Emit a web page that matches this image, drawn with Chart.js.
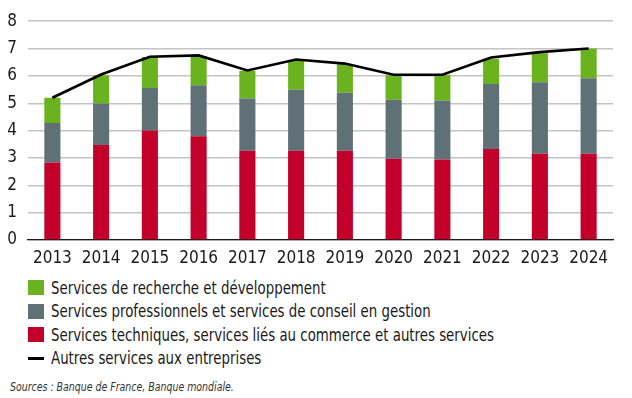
<!DOCTYPE html>
<html>
<head>
<meta charset="utf-8">
<script src="https://cdn.jsdelivr.net/npm/chart.js@4"></script>
<style>
  body { margin: 0; background: #fff; }
  #wrap { position: relative; width: 632px; height: 398px; font-family: "Liberation Sans Narrow", "DejaVu Sans Condensed", sans-serif; color: #1a1a1a; }
  #box { position: absolute; left: 0; top: 0; width: 632px; height: 272px; }
  #legend { position: absolute; left: 28px; top: 276px; }
  .row { display: flex; align-items: center; height: 23.5px; font-size: 17px; white-space: nowrap; }
  .row span.t { display: inline-block; transform: scaleX(0.873); transform-origin: left center; }
  .sw { width: 16px; height: 15px; margin-right: 7px; }
  .ln { width: 16px; height: 3px; margin-right: 7px; background: #000; }
  #src { position: absolute; left: 10px; top: 380px; font-size: 11.5px; font-style: italic; color: #333; white-space: nowrap; transform: scaleX(0.91); transform-origin: left center; }
</style>
</head>
<body>
<div id="wrap">
  <div id="box"><canvas id="myChart"></canvas></div>
  <div id="legend"></div>
  <div id="src">Sources : Banque de France, Banque mondiale.</div>
</div>
<script>
const years = ["2013", "2014", "2015", "2016", "2017", "2018", "2019", "2020", "2021", "2022", "2023", "2024"];
const techniques = [2.83, 3.47, 4.0, 3.79, 3.26, 3.26, 3.26, 2.97, 2.94, 3.33, 3.15, 3.15];
const professionnels = [1.45, 1.52, 1.56, 1.87, 1.91, 2.23, 2.12, 2.16, 2.16, 2.37, 2.62, 2.76];
const recherche = [0.92, 1.03, 1.13, 1.07, 1.02, 1.06, 1.05, 0.89, 0.94, 0.93, 1.06, 1.09];
const autres = [5.2, 6.05, 6.7, 6.75, 6.2, 6.6, 6.45, 6.04, 6.04, 6.67, 6.87, 7.0];

const labelRecherche = "Services de recherche et développement";
const labelPro = "Services professionnels et services de conseil en gestion";
const labelTech = "Services techniques, services liés au commerce et autres services";
const labelAutres = "Autres services aux entreprises";

const green = "#6ab31e";
const grey = "#5f7077";
const red = "#c20029";

const font = "'Liberation Sans Narrow', 'DejaVu Sans Condensed', sans-serif";

// legend built by hand, one entry per row
const legend = document.getElementById("legend");
[
  { label: labelRecherche, color: green },
  { label: labelPro, color: grey },
  { label: labelTech, color: red },
  { label: labelAutres, line: true },
].forEach((item) => {
  const row = document.createElement("div");
  row.className = "row";
  const mark = document.createElement("span");
  mark.className = item.line ? "ln" : "sw";
  if (!item.line) mark.style.background = item.color;
  const text = document.createElement("span");
  text.className = "t";
  text.textContent = item.label;
  row.appendChild(mark);
  row.appendChild(text);
  legend.appendChild(row);
});

const ctx = document.getElementById("myChart");

new Chart(ctx, {
  data: {
    labels: years,
    datasets: [
      {
        type: "line",
        label: labelAutres,
        data: autres,
        borderColor: "#000",
        borderWidth: 2.6,
        pointRadius: 0,
        tension: 0,
        stack: "line",
        order: 0,
      },
      {
        type: "bar",
        label: labelTech,
        data: techniques,
        backgroundColor: red,
        stack: "bars",
        order: 1,
      },
      {
        type: "bar",
        label: labelPro,
        data: professionnels,
        backgroundColor: grey,
        stack: "bars",
        order: 1,
      },
      {
        type: "bar",
        label: labelRecherche,
        data: recherche,
        backgroundColor: green,
        stack: "bars",
        order: 1,
      },
    ],
  },
  options: {
    responsive: true,
    maintainAspectRatio: false,
    animation: false,
    layout: { padding: { top: 14, right: 19, left: 0, bottom: 0 } },
    datasets: {
      bar: { categoryPercentage: 1, barPercentage: 0.33 },
    },
    plugins: {
      legend: { display: false },
      tooltip: { enabled: false },
    },
    scales: {
      x: {
        stacked: true,
        grid: { display: false, drawTicks: false },
        border: { display: true, color: "#1a1a1a", width: 1.2 },
        ticks: { color: "#1a1a1a", font: { family: font, size: 17 }, padding: 8, maxRotation: 0 },
        afterFit: (scale) => { scale.height = 32; },
      },
      y: {
        stacked: true,
        min: 0,
        max: 8,
        grid: { color: "#c4c4c4", lineWidth: 1.5, drawTicks: false },
        border: { display: false },
        ticks: { stepSize: 1, color: "#1a1a1a", font: { family: font, size: 17 }, padding: 11 },
        afterFit: (scale) => { scale.width = 28; },
      },
    },
  },
});
</script>
</body>
</html>
